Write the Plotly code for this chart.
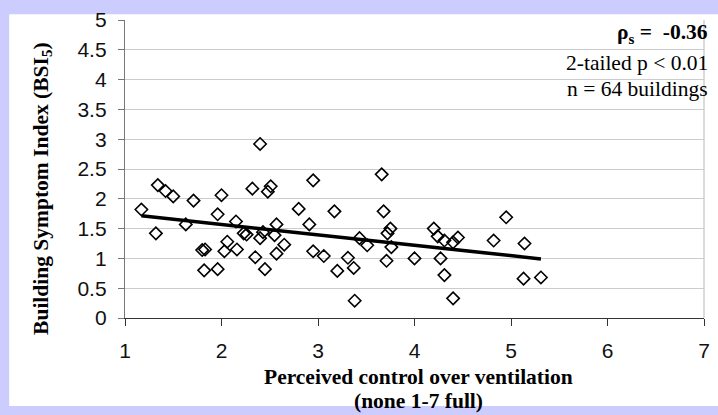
import numpy as np
import plotly.graph_objects as go

# Perceived control over ventilation (x) and BSI5 (y)
control = [1.17, 1.32, 1.34, 1.42, 1.50, 1.63, 1.71, 1.80, 1.83, 1.82,
           1.96, 1.96, 2.00, 2.06, 2.03, 2.15, 2.16, 2.23, 2.26, 2.32,
           2.40, 2.51, 2.48, 2.95, 2.80, 3.17, 2.57, 2.91, 2.40, 2.43,
           2.55, 2.65, 2.35, 2.57, 2.45, 2.95, 3.06, 3.31, 3.20, 3.37,
           3.38, 3.43, 3.51, 3.66, 3.68, 3.75, 3.72, 3.76, 3.71, 4.00,
           4.20, 4.24, 4.31, 4.27, 4.31, 4.40, 4.40, 4.45, 4.95, 4.82,
           5.14, 5.13, 5.31]
bsi5 = [1.82, 1.42, 2.23, 2.13, 2.04, 1.57, 1.97, 1.14, 1.15, 0.80,
        0.82, 1.74, 2.06, 1.28, 1.12, 1.62, 1.15, 1.42, 1.40, 2.17,
        2.92, 2.21, 2.12, 2.31, 1.83, 1.79, 1.57, 1.57, 1.34, 1.44,
        1.39, 1.23, 1.02, 1.08, 0.82, 1.12, 1.04, 1.01, 0.79, 0.84,
        0.29, 1.34, 1.22, 2.41, 1.79, 1.50, 1.42, 1.19, 0.96, 1.00,
        1.50, 1.37, 1.30, 1.00, 0.72, 0.33, 1.27, 1.35, 1.69, 1.30,
        1.25, 0.66, 0.68]

x_ticks = [1, 2, 3, 4, 5, 6, 7]
y_ticks = [0, 0.5, 1, 1.5, 2, 2.5, 3, 3.5, 4, 4.5, 5]

stats_lines = ["<b>ρ<sub>s</sub> =  -0.36</b>", "2-tailed p < 0.01", "n = 64 buildings"]

# linear trend from data
slope, intercept = np.polyfit(control, bsi5, 1)
trend_x = [min(control), max(control)]
trend_y = [intercept + slope * v for v in trend_x]

fig = go.Figure()
fig.add_trace(go.Scatter(
    x=control, y=bsi5, mode="markers",
    marker=dict(symbol="diamond-open", size=9.5, color="black", line=dict(width=1.6, color="black")),
    showlegend=False, hoverinfo="skip"))
fig.add_trace(go.Scatter(
    x=trend_x, y=trend_y, mode="lines",
    line=dict(color="black", width=3.5), showlegend=False, hoverinfo="skip"))

W_L, W_R, W_T, W_B = 125, 8, 13, 97
PW = 718 - W_L - W_R
PH = 415 - W_T - W_B


def px_x(p):
    return (p - W_L) / PW


def px_y(p):
    return (415 - W_B - p) / PH


fig.update_layout(
    width=718, height=415,
    margin=dict(l=W_L, r=W_R, t=W_T, b=W_B, pad=0),
    paper_bgcolor="#CCCCFF", plot_bgcolor="white",
    font=dict(family="Liberation Sans, Arial", size=21, color="black"),
    xaxis=dict(range=[1, 7], tickvals=x_ticks, showgrid=False, zeroline=False,
               showline=True, linecolor="#333333", linewidth=1.3,
               ticks="outside", ticklen=7, tickcolor="#333333", tickwidth=1.3,
               ticklabelstandoff=7, tickfont=dict(size=21, color="#111111")),
    yaxis=dict(range=[0, 5], tickvals=y_ticks, showgrid=True, gridcolor="#CCCCCC",
               gridwidth=1, zeroline=False, showline=True, linecolor="#777777", linewidth=1.3,
               ticks="outside", ticklen=6, tickcolor="#777777", tickwidth=1.3,
               ticklabelstandoff=7, tickfont=dict(size=21, color="#111111")),
    shapes=[
        dict(type="rect", xref="paper", yref="paper", x0=px_x(8), x1=px_x(730),
             y0=px_y(408), y1=px_y(7), fillcolor="white", line=dict(width=0), layer="below"),
        dict(type="line", xref="paper", yref="paper", x0=1, x1=1, y0=0, y1=1,
             line=dict(color="#C8C8C8", width=1.3)),
    ],
)

serif = "Liberation Serif, Times New Roman"
ann = [
    dict(text="<b>Building Symptom Index (BSI<sub>5</sub>)</b>", x=px_x(41), y=px_y(185),
         textangle=-90, font=dict(family=serif, size=21.5)),
    dict(text="<b>Perceived control over ventilation</b>", x=px_x(422), y=px_y(378),
         font=dict(family=serif, size=21.5)),
    dict(text="<b>(none 1-7 full)</b>", x=px_x(422), y=px_y(403),
         font=dict(family=serif, size=21.5)),
]
for txt, yy in zip(stats_lines, [27, 57, 84]):
    ann.append(dict(text=txt, x=px_x(716), y=px_y(yy), xanchor="right",
                    font=dict(family=serif, size=21.5)))
for a in ann:
    a.setdefault("xanchor", "center")
    a.update(xref="paper", yref="paper", yanchor="middle", showarrow=False)
fig.update_layout(annotations=ann)

fig.write_html("out.html", config={"displayModeBar": False},
               post_script="document.body.style.margin='0px';")
